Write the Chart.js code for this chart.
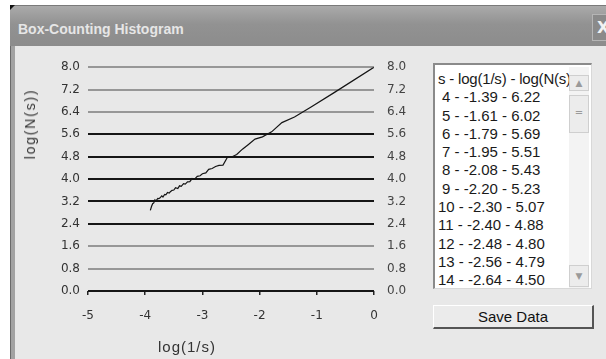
<!DOCTYPE html>
<html>
<head>
<meta charset="utf-8">
<script src="https://cdn.jsdelivr.net/npm/chart.js@4/dist/chart.umd.min.js"></script>
<style>
  html, body { margin: 0; padding: 0; }
  body { width: 606px; height: 359px; overflow: hidden; position: relative; background: #ffffff; font-family: "Liberation Sans", Arial, sans-serif; }
  #win { position: absolute; left: 10px; top: 5px; right: 0; bottom: 0; background: #e8e8e8; }
  #frameLeft { position: absolute; left: 10px; top: 5px; width: 5px; bottom: 0; background: #a2a2a2; border-left: 1px solid #6a6a6a; box-sizing: border-box; }
  #titlebar { position: absolute; left: 10px; top: 5px; right: 0; height: 41px; background: linear-gradient(#aaaaaa, #929292 45%, #8c8c8c); border-top: 1px solid #7a7a7a; box-sizing: border-box; }
  #corner { position: absolute; left: 10px; top: 5px; width: 0; height: 0; border-top: 5px solid #111; border-right: 5px solid transparent; }
  #titleText { position: absolute; left: 18px; top: 20px; font: bold 14px "Liberation Sans", Arial, sans-serif; color: #e6e6e6; line-height: 18px; white-space: nowrap; }
  #closeBtn { position: absolute; left: 592px; top: 14px; width: 20px; height: 27px; background: #8a8a8a; border: 1px solid #b5b5b5; box-sizing: border-box; color: #f2f2f2; font: bold 16px "DejaVu Sans", sans-serif; line-height: 25px; padding-left: 4px; }
  #plotWrap { position: absolute; left: 15px; top: 47px; width: 415px; height: 312px; }
  #yTitle { position: absolute; left: 30px; top: 124px; transform: translate(-50%, -50%) rotate(-90deg); font: 14px "Liberation Sans", Arial, sans-serif; letter-spacing: 1.8px; color: #333; white-space: nowrap; }
  #xTitle { position: absolute; left: 158px; top: 338px; font: 15px "Liberation Sans", Arial, sans-serif; letter-spacing: 1px; color: #333; white-space: nowrap; line-height: 18px; }
  #listBox { position: absolute; left: 433px; top: 63px; width: 159px; height: 226px; background: #ffffff; box-sizing: border-box; border-top: 2px solid #8a8a8a; border-left: 2px solid #8a8a8a; border-right: 1px solid #d8d8d8; border-bottom: 1px solid #d8d8d8; overflow: hidden; }
  #rows { position: absolute; left: 3px; top: 5px; width: 131px; overflow: hidden; font: 15px "Liberation Sans", Arial, sans-serif; color: #1a1a1a; line-height: 18.3px; white-space: nowrap; }
  #rows .hdr { font-size: 15px; letter-spacing: -0.2px; }
  #rows .one { padding-left: 4px; }
  #scroll { position: absolute; right: 2px; top: 2px; bottom: 0; width: 20px; background: #f3f3f3; }
  .sbtn { position: absolute; left: 0; width: 20px; background: #ececec; border: 1px solid #cfcfcf; box-sizing: border-box; color: #9a9a9a; font: 9px "DejaVu Sans", sans-serif; text-align: center; }
  #up { top: 8px; height: 16px; line-height: 14px; }
  #thumb { top: 28px; height: 38px; line-height: 34px; font-size: 10px; }
  #down { bottom: 1px; height: 22px; line-height: 20px; }
  #saveBtn { position: absolute; left: 433px; top: 305px; width: 161px; height: 24px; box-sizing: border-box; background: #ebebeb; border-top: 1px solid #ffffff; border-left: 1px solid #ffffff; border-right: 2px solid #555; border-bottom: 2px solid #555; font: 15px "Liberation Sans", Arial, sans-serif; color: #111; text-align: center; line-height: 21px; }
</style>
</head>
<body>
<div id="win"></div>
<div id="frameLeft"></div>
<div id="titlebar"></div>
<div id="corner"></div>
<div id="titleText">Box-Counting Histogram</div>
<div id="closeBtn">X</div>
<div id="plotWrap"><canvas id="chart" width="415" height="312"></canvas></div>
<div id="yTitle">log(N(s))</div>
<div id="xTitle">log(1/s)</div>
<div id="listBox">
  <div id="rows"></div>
  <div id="scroll">
    <div class="sbtn" id="up">&#9650;</div>
    <div class="sbtn" id="thumb">=</div>
    <div class="sbtn" id="down">&#9660;</div>
  </div>
</div>
<div id="saveBtn">Save Data</div>

<script>
// Box sizes s (pixels)
const boxSizes = [1, 2, 3, 4, 5, 6, 7, 8, 9, 10, 11, 12, 13, 14, 15, 16, 17, 18, 19, 20,
  21, 22, 23, 24, 25, 26, 27, 28, 29, 30, 31, 32, 33, 34, 35, 36, 37, 38, 39, 40,
  41, 42, 43, 44, 45, 46, 47, 48, 49, 50];

// log(1/s) for each box size
const logInvS = [0.00, -0.69, -1.10, -1.39, -1.61, -1.79, -1.95, -2.08, -2.20, -2.30,
  -2.40, -2.48, -2.56, -2.64, -2.71, -2.77, -2.83, -2.89, -2.94, -3.00,
  -3.04, -3.09, -3.14, -3.18, -3.22, -3.26, -3.30, -3.33, -3.37, -3.40,
  -3.43, -3.47, -3.50, -3.53, -3.56, -3.58, -3.61, -3.64, -3.66, -3.69,
  -3.71, -3.74, -3.76, -3.78, -3.81, -3.83, -3.85, -3.87, -3.89, -3.91];

// log(N(s)): number of occupied boxes at each size
const logNs = [8.00, 7.10, 6.58, 6.22, 6.02, 5.69, 5.51, 5.43, 5.23, 5.07,
  4.88, 4.80, 4.79, 4.50, 4.49, 4.45, 4.38, 4.35, 4.22, 4.19,
  4.12, 4.10, 3.99, 4.02, 3.91, 3.90, 3.82, 3.84, 3.74, 3.76,
  3.66, 3.69, 3.61, 3.60, 3.55, 3.50, 3.52, 3.44, 3.45, 3.36,
  3.40, 3.33, 3.30, 3.31, 3.22, 3.26, 3.15, 3.12, 3.02, 2.88];

// Axis tick values
const xTicks = [-5, -4, -3, -2, -1, 0];
const yTicks = [0.0, 0.8, 1.6, 2.4, 3.2, 4.0, 4.8, 5.6, 6.4, 7.2, 8.0];
// Grid rows drawn in the darker ink
const darkRows = [0.0, 2.4, 3.2, 4.0, 4.8, 5.6];

const listHeader = "s - log(1/s) - log(N(s))";
const firstListed = 4;

// Fill the data list
const rowsEl = document.getElementById('rows');
const hdr = document.createElement('div');
hdr.className = 'hdr';
hdr.textContent = listHeader;
rowsEl.appendChild(hdr);
boxSizes.forEach((s, i) => {
  if (s < firstListed) return;
  const d = document.createElement('div');
  if (s < 10) d.className = 'one';
  d.textContent = s + ' - ' + logInvS[i].toFixed(2) + ' - ' + logNs[i].toFixed(2);
  rowsEl.appendChild(d);
});

const points = boxSizes.map((s, i) => ({ x: logInvS[i], y: logNs[i] }));
const tickFont = { family: '"DejaVu Sans", sans-serif', size: 12 };
const isDark = v => darkRows.some(d => Math.abs(d - v) < 1e-6);

new Chart(document.getElementById('chart'), {
  type: 'scatter',
  data: {
    datasets: [{
      data: points,
      showLine: true,
      borderColor: '#151515',
      borderWidth: 1.2,
      pointRadius: 0,
      tension: 0
    }]
  },
  options: {
    responsive: false,
    devicePixelRatio: 1,
    animation: false,
    layout: { padding: { top: 16, left: 0, right: 0, bottom: 0 } },
    plugins: { legend: { display: false }, tooltip: { enabled: false } },
    scales: {
      x: {
        type: 'linear',
        min: xTicks[0],
        max: xTicks[xTicks.length - 1],
        afterBuildTicks: s => { s.ticks = xTicks.map(v => ({ value: v })); },
        ticks: { font: tickFont, color: '#333', padding: 14, callback: v => String(v) },
        grid: { drawOnChartArea: false, drawTicks: true, tickLength: 4, color: '#222', lineWidth: 1.5 },
        border: { display: false },
        afterFit: s => { s.height = 68; }
      },
      y: {
        position: 'left',
        min: yTicks[0],
        max: yTicks[yTicks.length - 1],
        afterBuildTicks: s => { s.ticks = yTicks.map(v => ({ value: v })); },
        ticks: { font: tickFont, color: '#333', padding: 8, callback: v => Number(v).toFixed(1) },
        grid: {
          drawTicks: false,
          color: c => isDark(c.tick.value) ? '#161616' : '#979797',
          lineWidth: 2
        },
        border: { display: false },
        afterFit: s => { s.width = 73; }
      },
      y2: {
        position: 'right',
        min: yTicks[0],
        max: yTicks[yTicks.length - 1],
        afterBuildTicks: s => { s.ticks = yTicks.map(v => ({ value: v })); },
        ticks: { font: tickFont, color: '#444', padding: 13, callback: v => Number(v).toFixed(1) },
        grid: { display: false, drawTicks: false },
        border: { display: false },
        afterFit: s => { s.width = 56; }
      }
    }
  }
});
</script>
</body>
</html>
